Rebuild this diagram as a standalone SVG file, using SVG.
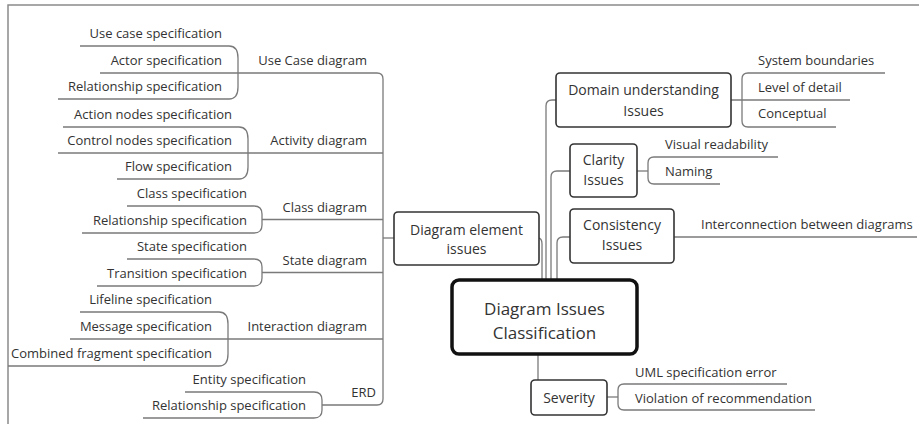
<svg xmlns="http://www.w3.org/2000/svg" width="919" height="424" viewBox="0 0 919 424">
<style>
  text { font-family: "Open Sans", "Noto Sans", "Liberation Sans", sans-serif; fill: #333; }
  .t { font-size: 13px; }
  .e { text-anchor: end; }
  .m { text-anchor: middle; font-size: 14px; }
  .ln { fill: none; stroke: #7a7a7a; stroke-width: 1.3; }
  .box { fill: #fff; stroke: #333; stroke-width: 1.6; }
  .root { fill: #fff; stroke: #111; stroke-width: 3.5; }
  .frame { fill: none; stroke: #8a8a8a; stroke-width: 1.5; }
</style>
<rect width="919" height="424" fill="#fff"/>
<path class="frame" d="M 919 5 H 8 V 424"/>

<g id="connectors">
  <!-- root to right-side nodes -->
  <path class="ln" d="M 546 280 V 106 Q 546 100 552 100 H 556"/>
  <path class="ln" d="M 551 280 V 177 Q 551 171 557 171 H 570"/>
  <path class="ln" d="M 557 280 V 243 Q 557 237 563 237 H 570"/>
  <path class="ln" d="M 542 280 V 244 Q 542 238 538 238"/>
  <path class="ln" d="M 538 354 V 380"/>
  <!-- Diagram element issues trunk -->
  <path class="ln" d="M 394 238 H 383"/>
  <path class="ln" d="M 100 73 H 377 Q 383 73 383 79 V 399 Q 383 405 377 405 H 322"/>
  <path class="ln" d="M 58 153 H 383"/>
  <path class="ln" d="M 262 219.5 H 383"/>
  <path class="ln" d="M 262 272.5 H 383"/>
  <path class="ln" d="M 70 339 H 383"/>
  <!-- Use Case brackets -->
  <path class="ln" d="M 80 46 H 229 Q 238 46 238 58 V 87 Q 238 99 229 99 H 58"/>
  <!-- Activity -->
  <path class="ln" d="M 63 127 H 239 Q 248 127 248 139 V 167 Q 248 179 239 179 H 117"/>
  <!-- Class -->
  <path class="ln" d="M 127 206 H 254 Q 262 206 262 214 V 225 Q 262 233 254 233 H 82"/>
  <!-- State -->
  <path class="ln" d="M 127 259 H 254 Q 262 259 262 267 V 278 Q 262 286 254 286 H 97"/>
  <!-- Interaction -->
  <path class="ln" d="M 80 312 H 219 Q 228 312 228 324 V 354 Q 228 366 219 366 H 8"/>
  <!-- ERD -->
  <path class="ln" d="M 185 392 H 314 Q 322 392 322 400 V 410 Q 322 418 314 418 H 143"/>
  <!-- Domain children -->
  <path class="ln" d="M 731 100 H 850"/>
  <path class="ln" d="M 885 73 H 748 Q 742 73 742 79 V 121 Q 742 127 748 127 H 836"/>
  <!-- Clarity children -->
  <path class="ln" d="M 637 171 H 648"/>
  <path class="ln" d="M 778 157 H 654 Q 648 157 648 163 V 178 Q 648 184 654 184 H 720"/>
  <!-- Consistency child -->
  <path class="ln" d="M 674 237 H 917"/>
  <!-- Severity children -->
  <path class="ln" d="M 607 397 H 618"/>
  <path class="ln" d="M 787 384 H 624 Q 618 384 618 390 V 404 Q 618 410 624 410 H 815"/>
</g>

<g id="root">
  <rect class="root" x="452" y="280" width="185" height="74" rx="7"/>
  <text x="544.5" y="315" text-anchor="middle" font-size="17">Diagram Issues</text>
  <text x="544.5" y="339" text-anchor="middle" font-size="17">Classification</text>
</g>

<g id="diagram-element-issues">
  <rect class="box" x="394" y="212" width="145" height="53" rx="4"/>
  <text class="m" x="466.5" y="235">Diagram element</text>
  <text class="m" x="466.5" y="254">issues</text>
</g>

<g id="domain">
  <rect class="box" x="556" y="73" width="175" height="54" rx="4"/>
  <text class="m" x="643.5" y="95">Domain understanding</text>
  <text class="m" x="643.5" y="116">Issues</text>
</g>

<g id="clarity">
  <rect class="box" x="570" y="144" width="67" height="53" rx="4"/>
  <text class="m" x="603.5" y="165">Clarity</text>
  <text class="m" x="603.5" y="185">Issues</text>
</g>

<g id="consistency">
  <rect class="box" x="570" y="209" width="104" height="54" rx="4"/>
  <text class="m" x="622" y="230">Consistency</text>
  <text class="m" x="622" y="250">Issues</text>
</g>

<g id="severity">
  <rect class="box" x="531" y="380" width="76" height="35" rx="4"/>
  <text class="m" x="569" y="403">Severity</text>
</g>

<g id="right-leaves">
  <text class="t" x="758" y="65">System boundaries</text>
  <text class="t" x="758" y="92">Level of detail</text>
  <text class="t" x="758" y="118">Conceptual</text>
  <text class="t" x="665" y="149">Visual readability</text>
  <text class="t" x="665" y="176">Naming</text>
  <text class="t" x="701" y="229">Interconnection between diagrams</text>
  <text class="t" x="635" y="377">UML specification error</text>
  <text class="t" x="635" y="403">Violation of recommendation</text>
</g>

<g id="use-case">
  <text class="t e" x="367" y="65">Use Case diagram</text>
  <text class="t e" x="222" y="38">Use case specification</text>
  <text class="t e" x="222" y="65">Actor specification</text>
  <text class="t e" x="222" y="91">Relationship specification</text>
</g>

<g id="activity">
  <text class="t e" x="367" y="145">Activity diagram</text>
  <text class="t e" x="232" y="119">Action nodes specification</text>
  <text class="t e" x="232" y="145">Control nodes specification</text>
  <text class="t e" x="232" y="171">Flow specification</text>
</g>

<g id="class">
  <text class="t e" x="367" y="211.5">Class diagram</text>
  <text class="t e" x="247" y="198">Class specification</text>
  <text class="t e" x="247" y="225">Relationship specification</text>
</g>

<g id="state">
  <text class="t e" x="367" y="264.5">State diagram</text>
  <text class="t e" x="247" y="251">State specification</text>
  <text class="t e" x="247" y="278">Transition specification</text>
</g>

<g id="interaction">
  <text class="t e" x="367" y="331">Interaction diagram</text>
  <text class="t e" x="212" y="304">Lifeline specification</text>
  <text class="t e" x="212" y="331">Message specification</text>
  <text class="t e" x="212" y="358">Combined fragment specification</text>
</g>

<g id="erd">
  <text class="t e" x="376" y="397">ERD</text>
  <text class="t e" x="306" y="384">Entity specification</text>
  <text class="t e" x="306" y="410">Relationship specification</text>
</g>
</svg>
